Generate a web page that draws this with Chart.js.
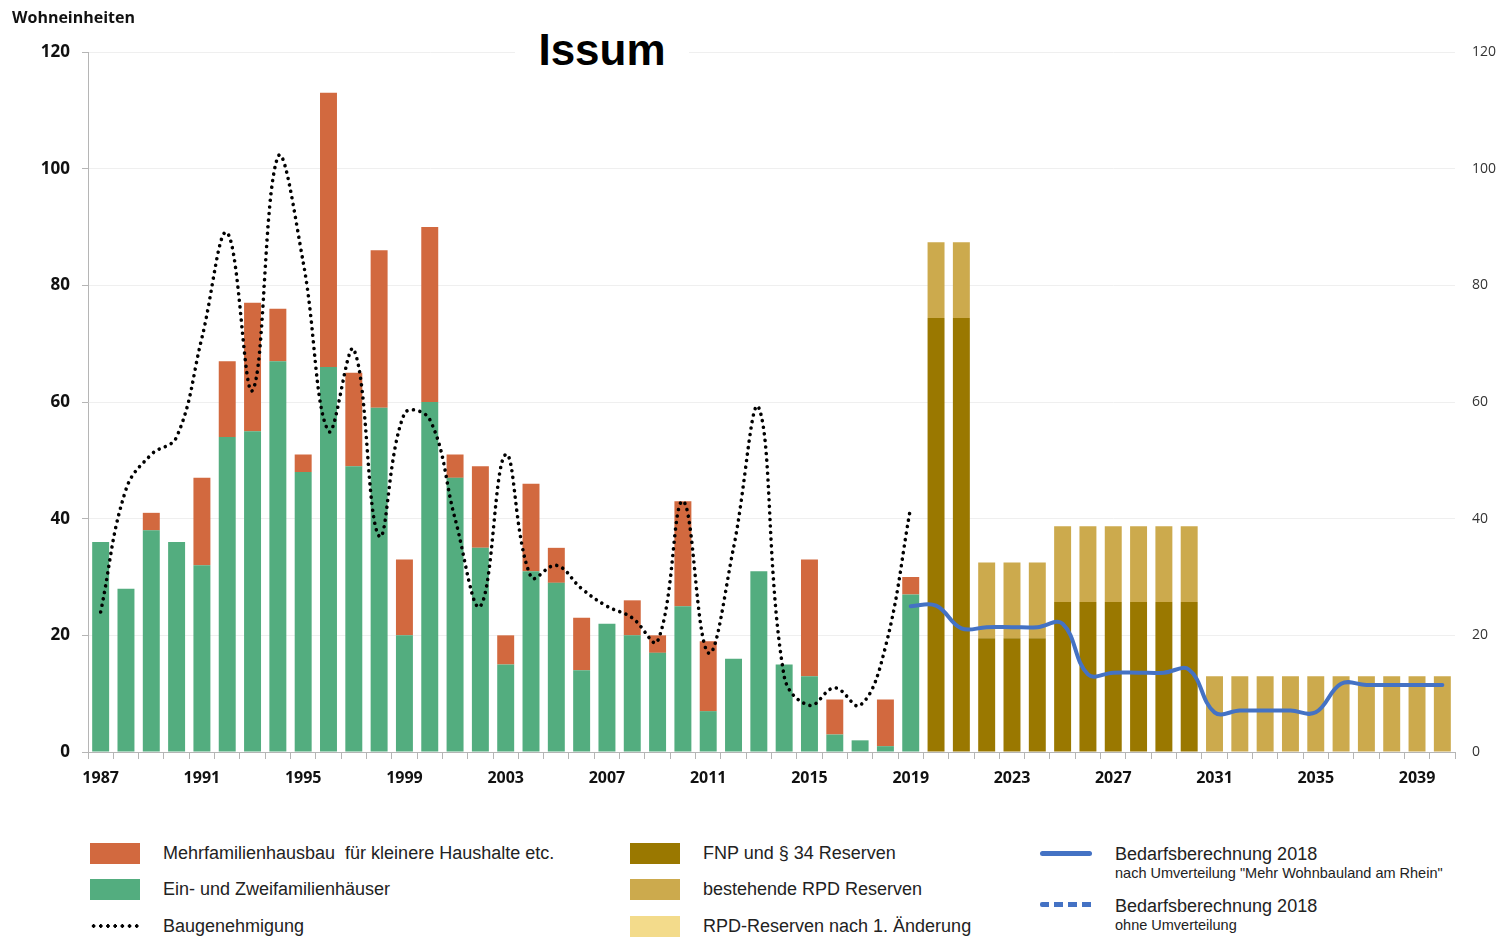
<!DOCTYPE html>
<html>
<head>
<meta charset="utf-8">
<script src="https://cdn.jsdelivr.net/npm/chart.js@4.4.1/dist/chart.umd.min.js"></script>
<style>
  html, body { margin:0; padding:0; background:#fff; }
  body { width:1499px; height:940px; position:relative; overflow:hidden; font-family:"Liberation Sans", Arial, sans-serif; }
  #wrap { position:absolute; left:0; top:0; width:1499px; height:800px; }
  #ylab { position:absolute; left:12px; top:6px; font:bold 16px "Open Sans", sans-serif; color:#111; }
  #title { position:absolute; left:515px; top:24px; width:174px; height:50px; background:#fff; text-align:center;
           font:bold 44px "Liberation Sans", Arial, sans-serif; color:#000; line-height:52px; }
  .lg { position:absolute; font-size:18px; color:#222; white-space:nowrap; letter-spacing:0px; }
  .sub { position:absolute; font-size:14.5px; color:#222; white-space:nowrap; letter-spacing:0px; }
  .sw { position:absolute; width:50px; height:21px; }
</style>
</head>
<body>
<div id="wrap"><canvas id="c"></canvas></div>
<div id="ylab">Wohneinheiten</div>
<div id="title">Issum</div>
<div id="legend"></div>
<script>
// ---- DATA ----
const years = ["1987","1988","1989","1990","1991","1992","1993","1994","1995","1996","1997","1998","1999","2000",
  "2001","2002","2003","2004","2005","2006","2007","2008","2009","2010","2011","2012","2013","2014","2015","2016",
  "2017","2018","2019","2020","2021","2022","2023","2024","2025","2026","2027","2028","2029","2030","2031","2032",
  "2033","2034","2035","2036","2037","2038","2039","2040"];
// 1987-2019
const einZwei = [36,28,38,36,32,54,55,67,48,66,49,59,20,60,47,35,15,31,29,14,22,20,17,25,7,16,31,15,13,3,2,1,27];
const mehrfam = [0,0,3,0,15,13,22,9,3,47,16,27,13,30,4,14,5,15,6,9,0,6,3,18,12,0,0,0,20,6,0,8,3];
const baugenehmigung = [24,45,51,54,71,89,62,102,84,55,69,37,58,57,40,25,51,30,32,28,25,23,19,43,17,35,59,13,8,11,8,18,42];
// 2020-2030
const fnpReserven = [74.4,74.4,19.5,19.5,19.5,25.7,25.7,25.7,25.7,25.7,25.7];
// 2020-2040
const rpdBestehend = [13,13,13,13,13,13,13,13,13,13,13,13,13,13,13,13,13,13,13,13,13];
const rpdAenderung = [];
// 2019-2040
const bedarfUmv = [25,25.1,21.2,21.4,21.4,21.4,22,13.3,13.6,13.6,13.6,14.1,6.8,7.1,7.1,7.1,6.8,11.7,11.5,11.5,11.5,11.5];
const bedarfOhne = [];
const yTicks = [0,20,40,60,80,100,120];

// ---- helpers ----
function place(values, startYear) {
  const i0 = years.indexOf(String(startYear));
  return years.map((y, i) => (i >= i0 && i - i0 < values.length) ? values[i - i0] : null);
}

const C = {
  orange:'#D2693F', green:'#53AD7F', olive:'#9A7800', tan:'#CCAA4D', yellow:'#F3DB8B', blue:'#4472C4'
};

const barCommon = { type:'bar', stack:'s', yAxisID:'y', order:2, borderWidth:0, barPercentage:0.67, categoryPercentage:1 };

const datasets = [
  Object.assign({ label:'Ein- und Zweifamilienhäuser', data:place(einZwei,1987), backgroundColor:C.green }, barCommon),
  Object.assign({ label:'Mehrfamilienhausbau&nbsp; für kleinere Haushalte etc.', data:place(mehrfam,1987), backgroundColor:C.orange }, barCommon),
  Object.assign({ label:'FNP und § 34 Reserven', data:place(fnpReserven,2020), backgroundColor:C.olive }, barCommon),
  Object.assign({ label:'bestehende RPD Reserven', data:place(rpdBestehend,2020), backgroundColor:C.tan }, barCommon),
  Object.assign({ label:'RPD-Reserven nach 1. Änderung', data:place(rpdAenderung,2020), backgroundColor:C.yellow }, barCommon),
  { type:'line', label:'Baugenehmigung', data:place(baugenehmigung,1987), yAxisID:'y2', order:0,
    borderColor:'#000', borderWidth:3.6, borderDash:[0.01,6.6], borderCapStyle:'round', tension:0.4,
    pointRadius:0, fill:false, spanGaps:false },
  { type:'line', label:'Bedarfsberechnung 2018', data:place(bedarfUmv,2019), yAxisID:'y2', order:0,
    borderColor:C.blue, borderWidth:4, tension:0.4, pointRadius:0, fill:false, borderCapStyle:'round' },
  { type:'line', label:'Bedarfsberechnung 2018 (ohne Umverteilung)', data:place(bedarfOhne,2019), yAxisID:'y2', order:0,
    borderColor:C.blue, borderWidth:4, borderDash:[8,5], tension:0.4, pointRadius:0, fill:false }
];

new Chart(document.getElementById('c'), {
  data: { labels: years, datasets },
  options: {
    responsive:true, maintainAspectRatio:false, animation:false,
    layout:{ padding:{ top:52, left:0, right:0, bottom:0 } },
    plugins:{ legend:{ display:false }, title:{ display:false }, tooltip:{ enabled:false } },
    scales:{
      x:{ stacked:true, offset:true,
          grid:{ drawOnChartArea:false, drawTicks:true, tickLength:7, tickColor:'#b5b5b5', offset:true },
          border:{ color:'#b5b5b5', width:1 },
          ticks:{ autoSkip:false, maxRotation:0, padding:10, color:'#111',
                  font:{ family:'"Open Sans", sans-serif', size:16, weight:'bold' },
                  callback:function(v, i){ return i % 4 === 0 ? years[i] : ''; } },
          afterFit:function(s){ s.height = 48; } },
      y:{ stacked:true, position:'left', min:0, max:120,
          afterBuildTicks:function(s){ s.ticks = yTicks.map(v => ({ value:v })); },
          grid:{ color:'#efefef', lineWidth:1, tickLength:6, tickColor:'#b5b5b5' },
          border:{ color:'#b5b5b5', width:1 },
          ticks:{ padding:12, color:'#111', font:{ family:'"Open Sans", sans-serif', size:17, weight:'bold' } },
          afterFit:function(s){ s.width = 88; } },
      y2:{ position:'right', min:0, max:120,
          afterBuildTicks:function(s){ s.ticks = yTicks.map(v => ({ value:v })); },
          grid:{ drawOnChartArea:false, drawTicks:false },
          border:{ display:false },
          ticks:{ padding:17, color:'#333', font:{ family:'"Open Sans", sans-serif', size:14 } },
          afterFit:function(s){ s.width = 44; } }
    }
  }
});

// ---- HTML legend built from dataset definitions ----
const L = document.getElementById('legend');
function add(html){ L.insertAdjacentHTML('beforeend', html); }
function swatch(x, yc, color){ add(`<div class="sw" style="left:${x}px;top:${yc-10}px;background:${color}"></div>`); }
function text(x, yc, t, cls){ const h = cls==='sub'?16:22; add(`<div class="${cls||'lg'}" style="left:${x}px;top:${yc-h/2}px;line-height:${h}px">${t}</div>`); }
const rows = [853, 889, 926];
swatch(90, rows[0], datasets[1].backgroundColor); text(163, rows[0], datasets[1].label);
swatch(90, rows[1], datasets[0].backgroundColor); text(163, rows[1], datasets[0].label);
add(`<div style="position:absolute;left:90px;top:${rows[2]-2}px;width:52px;height:4px;background-image:radial-gradient(circle,#000 1.6px,transparent 1.9px);background-size:7.2px 4px;"></div>`);
text(163, rows[2], datasets[5].label);
swatch(630, rows[0], datasets[2].backgroundColor); text(703, rows[0], datasets[2].label);
swatch(630, rows[1], datasets[3].backgroundColor); text(703, rows[1], datasets[3].label);
swatch(630, rows[2], datasets[4].backgroundColor); text(703, rows[2], datasets[4].label);
add(`<div style="position:absolute;left:1040px;top:851px;width:52px;height:5px;border-radius:3px;background:${C.blue}"></div>`);
text(1115, 854, 'Bedarfsberechnung 2018'); text(1115, 873, 'nach Umverteilung "Mehr Wohnbauland am Rhein"', 'sub');
add(`<div style="position:absolute;left:1040px;top:902px;width:56px;height:5px;background-image:linear-gradient(90deg,${C.blue} 9px,transparent 9px);background-size:14px 5px;border-radius:2px"></div>`);
text(1115, 906, 'Bedarfsberechnung 2018'); text(1115, 925, 'ohne Umverteilung', 'sub');
</script>
</body>
</html>
